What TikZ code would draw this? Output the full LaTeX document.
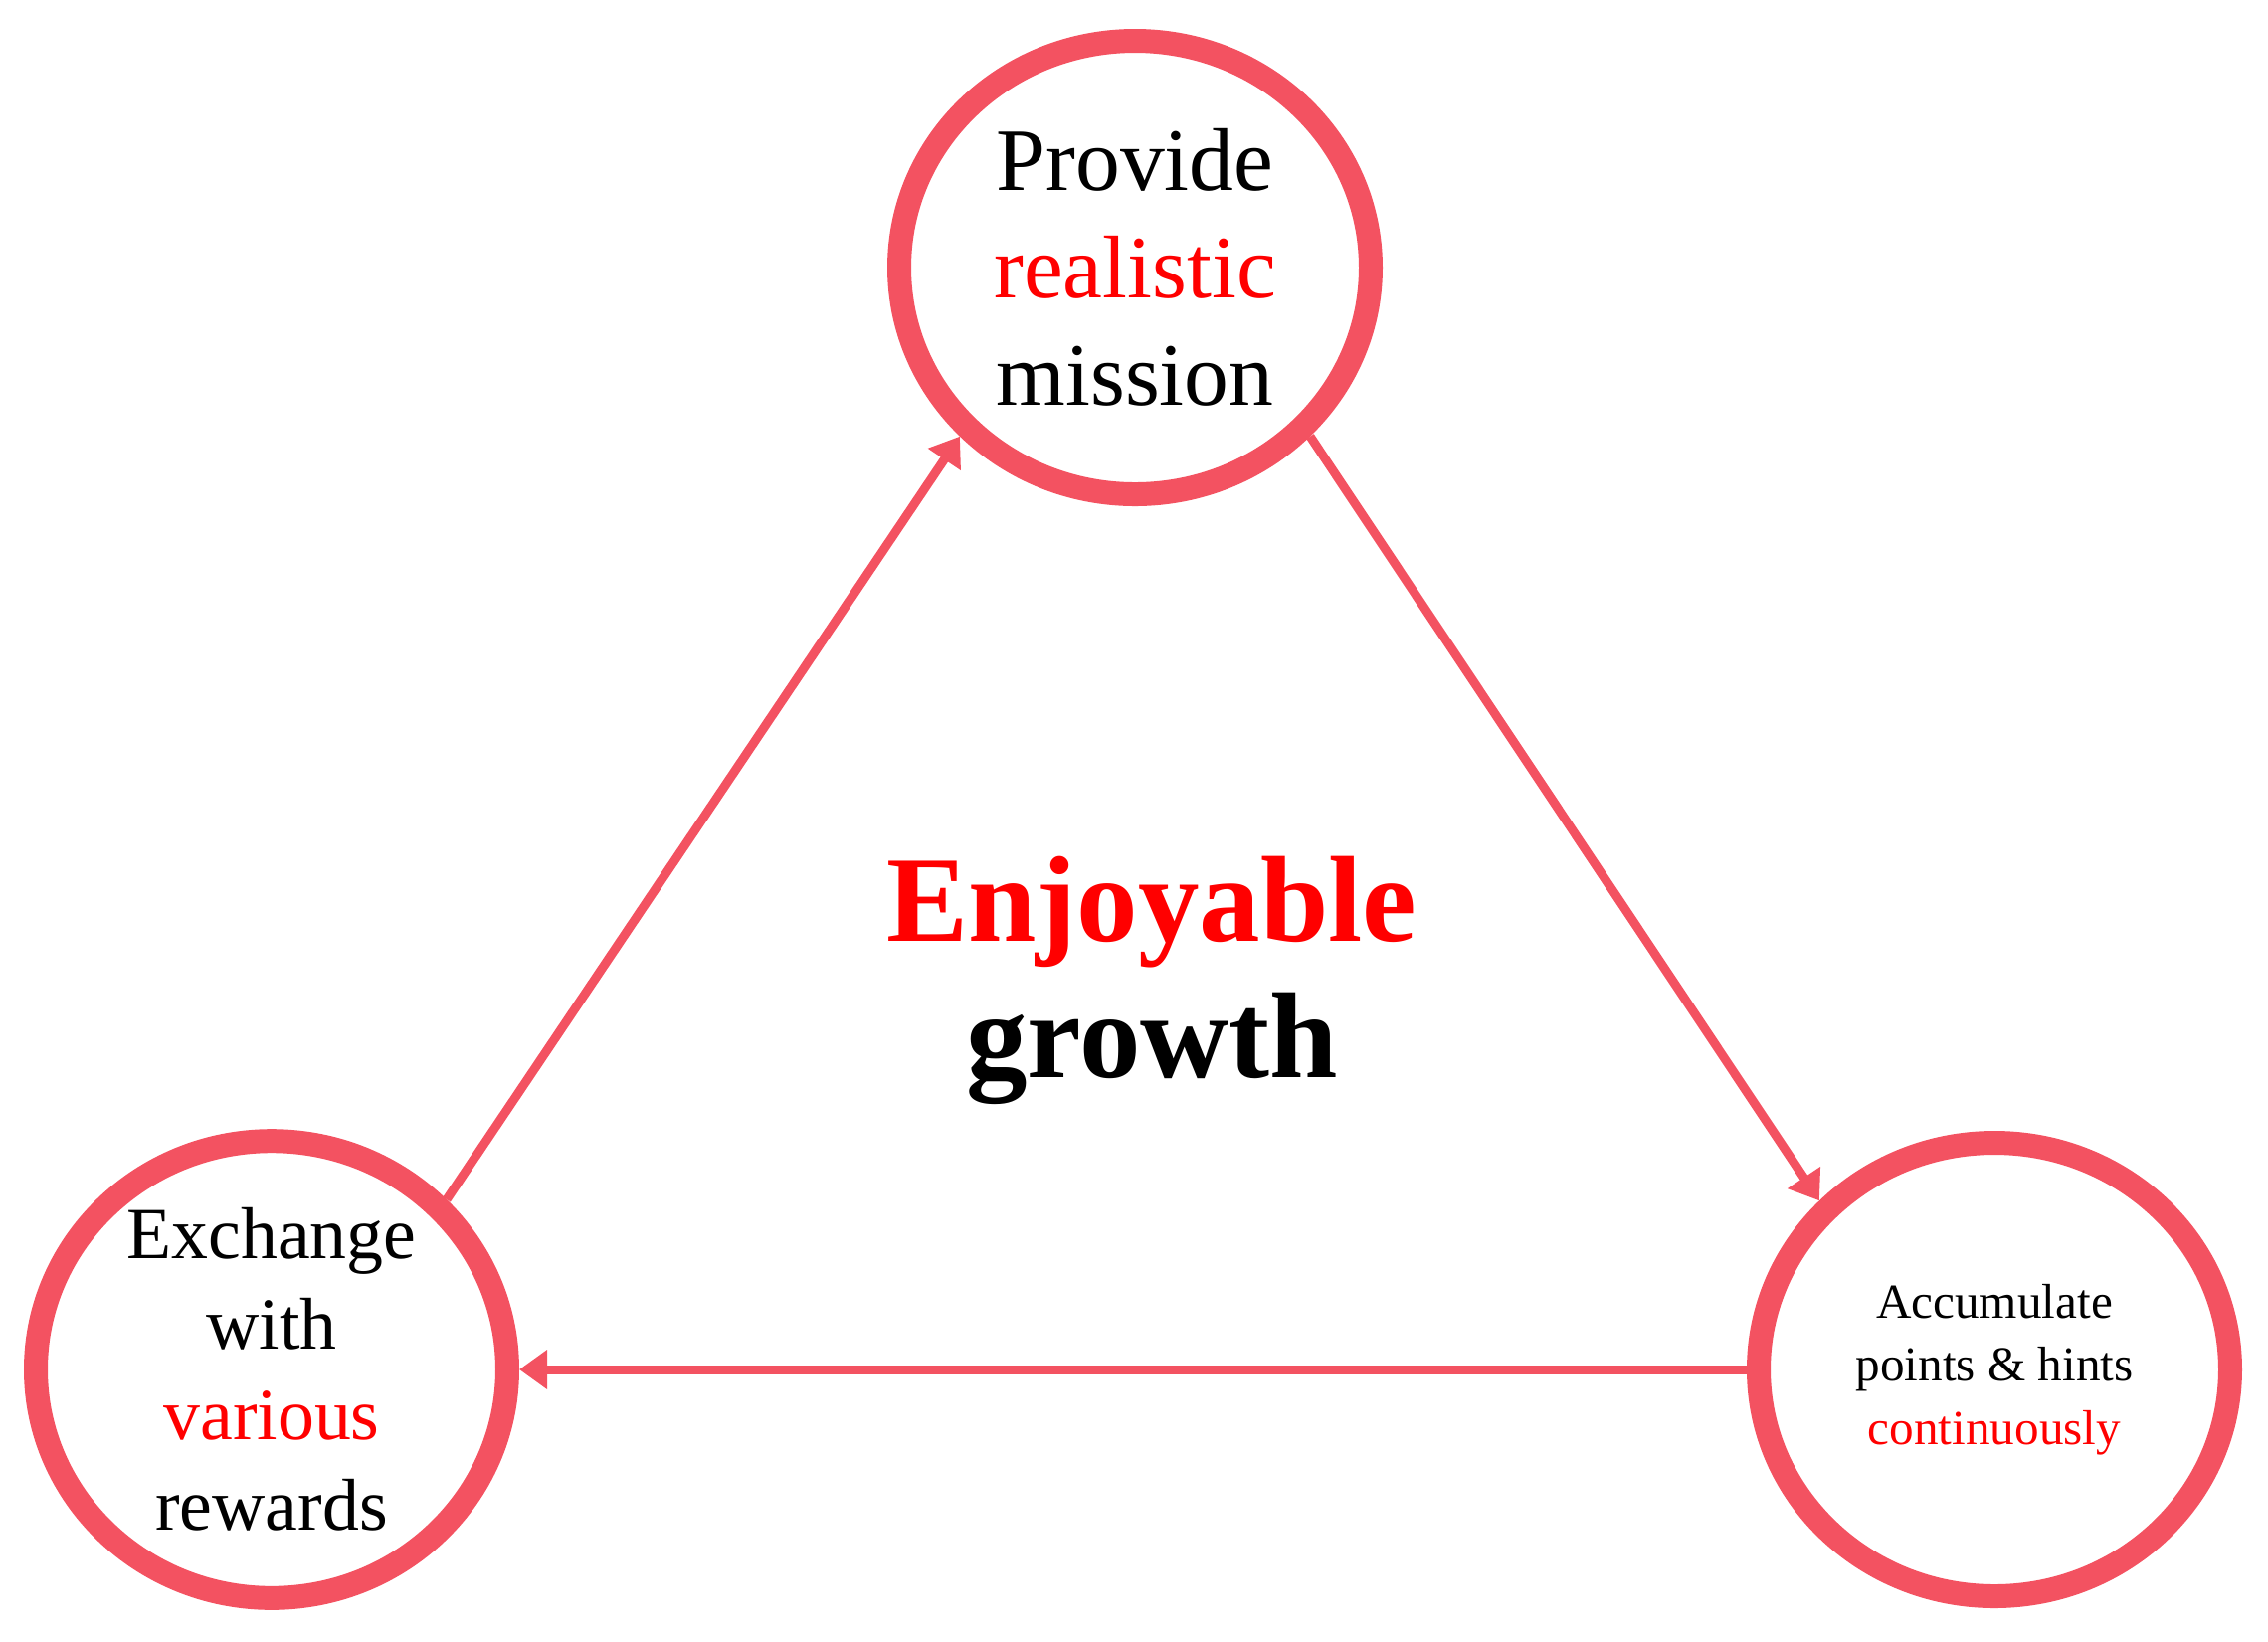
\documentclass[tikz,border=0pt]{standalone}
\usepackage{fontspec}
\setmainfont{Liberation Serif}
\usetikzlibrary{arrows.meta,shapes.geometric}
\definecolor{ringred}{RGB}{243,82,97}

\begin{document}
\begin{tikzpicture}[
  ring/.style={ellipse, draw=ringred, line width=0.24cm, fill=white, inner sep=0pt,
    minimum width=4.74cm, minimum height=4.56cm, align=center},
  arr/.style={draw=ringred, line width=0.09cm, -{Triangle[length=0.28cm,width=0.38cm]}}]
\useasboundingbox (0,0) rectangle (22.8,-16.5);
% Draw the three rings with their labels
\node[ring, font={\fontsize{25.5}{30.7}\selectfont}] (mission) at (11.41,-2.69)
  {Provide\\ \textcolor{red}{realistic}\\ mission};
\node[ring, font={\fontsize{21}{25.9}\selectfont}] (reward) at (2.73,-13.77)
  {Exchange\\ with\\ \textcolor{red}{various}\\ rewards};
\node[ring, font={\fontsize{14}{18}\selectfont}] (points) at (20.05,-13.77)
  {Accumulate\\ points \& hints\\ \textcolor{red}{continuously}};
% Label the middle of the cycle
\node[align=center, font={\bfseries\fontsize{35}{39}\selectfont}] (core) at (11.58,-9.86)
  {\textcolor{red}{Enjoyable}\\ growth};
% Draw the arrows round the cycle
\draw[arr] (reward.north east) -- (mission.south west);
\draw[arr] (mission.south east) -- (points.north west);
\draw[arr] (points.west) -- (reward.east);
\end{tikzpicture}
\end{document}
